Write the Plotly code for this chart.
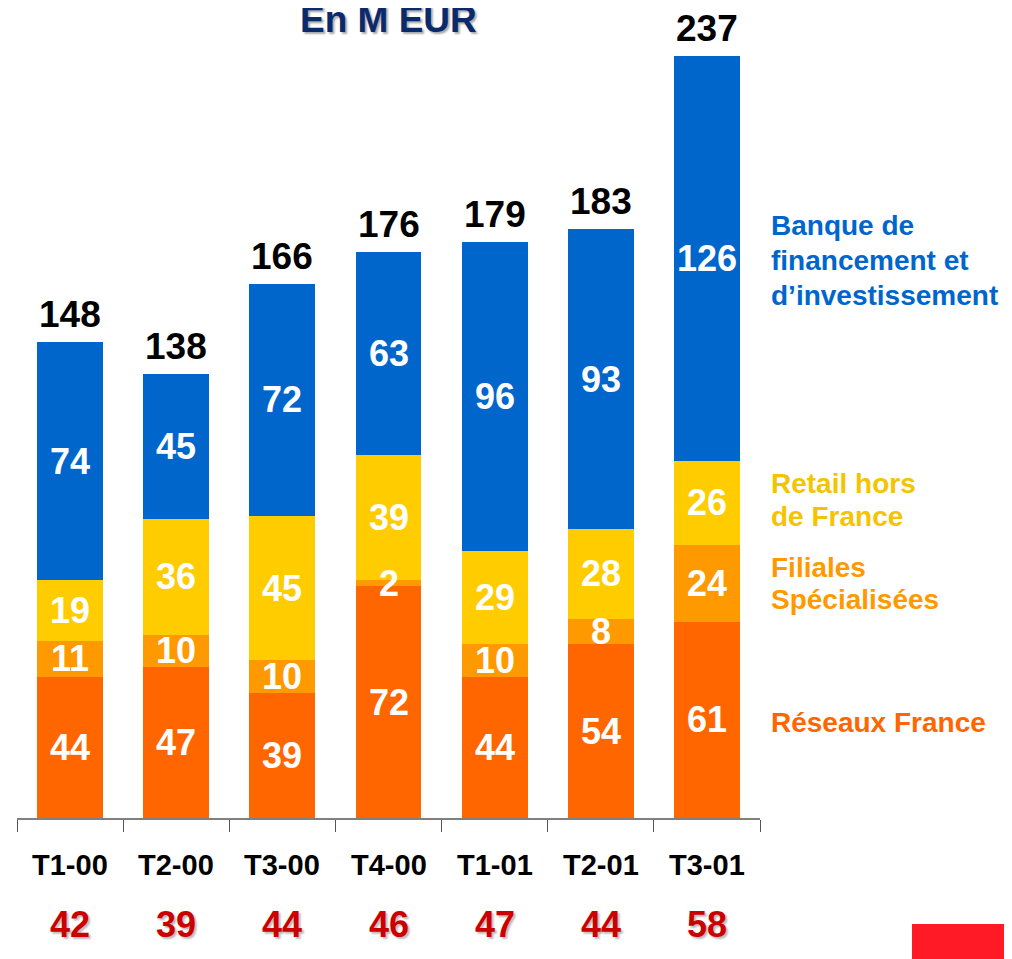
import plotly.graph_objects as go

categories = ["T1-00", "T2-00", "T3-00", "T4-00", "T1-01", "T2-01", "T3-01"]
reseaux_france = [44, 47, 39, 72, 44, 54, 61]
filiales_specialisees = [11, 10, 10, 2, 10, 8, 24]
retail_hors_france = [19, 36, 45, 39, 29, 28, 26]
banque_financement = [74, 45, 72, 63, 96, 93, 126]
totals = [148, 138, 166, 176, 179, 183, 237]
bottom_values = [42, 39, 44, 46, 47, 44, 58]

series = [
    ("Réseaux France", reseaux_france, "#FF6600"),
    ("Filiales Spécialisées", filiales_specialisees, "#FF9900"),
    ("Retail hors de France", retail_hors_france, "#FFCC00"),
    ("Banque de financement et d'investissement", banque_financement, "#0066CC"),
]

FONT = "Arial, Liberation Sans, sans-serif"

# page body has an 8px margin; the figure is shrunk accordingly
OFF = 8
FIG_W, FIG_H = 1012 - OFF, 959 - OFF
PLOT_L, PLOT_R, PLOT_T, PLOT_B = 17, 760, 14, 818  # target page pixels

fig = go.Figure()
base = [0] * len(categories)
annotations = []
for name, vals, color in series:
    fig.add_trace(go.Bar(
        x=categories, y=vals, name=name, marker=dict(color=color, line=dict(width=0)),
        width=0.62, hoverinfo="skip",
    ))
    for i, v in enumerate(vals):
        annotations.append(dict(
            x=categories[i], y=base[i] + v / 2, xref="x", yref="y", text=str(v),
            showarrow=False, font=dict(family=FONT, size=36, color="white", weight="bold"),
            xanchor="center", yanchor="middle",
        ))
        base[i] += v

for i, t in enumerate(totals):
    annotations.append(dict(
        x=categories[i], y=t, xref="x", yref="y", text=str(t), showarrow=False,
        font=dict(family=FONT, size=37, color="black", weight="bold"),
        xanchor="center", yanchor="bottom", yshift=5,
    ))

H = float(PLOT_B - PLOT_T)
W = float(PLOT_R - PLOT_L)

def py(pix):
    return (PLOT_B - pix) / H

def px(pix):
    return (pix - PLOT_L) / W

for i, c in enumerate(categories):
    annotations.append(dict(
        x=c, y=py(865), xref="x", yref="paper", text=c, showarrow=False,
        font=dict(family=FONT, size=29, color="black", weight="bold"),
        xanchor="center", yanchor="middle",
    ))
    annotations.append(dict(
        x=c, y=py(924), xref="x", yref="paper", text=str(bottom_values[i]), showarrow=False,
        font=dict(family=FONT, size=36, color="#CC0000", weight="bold", shadow="2px 2px 2px #BBBBBB"),
        xanchor="center", yanchor="middle",
    ))

legend_lines = [
    ("Banque de", "#0066CC", 225),
    ("financement et", "#0066CC", 260),
    ("d’investissement", "#0066CC", 295),
    ("Retail hors", "#F5C400", 484),
    ("de France", "#F5C400", 516),
    ("Filiales", "#FF9900", 567),
    ("Spécialisées", "#FF9900", 599),
    ("Réseaux France", "#FF6600", 722),
]
for text, color, ypix in legend_lines:
    annotations.append(dict(
        x=px(769), y=py(ypix), xref="paper", yref="paper", text=text, showarrow=False,
        font=dict(family=FONT, size=28, color=color, weight="bold"),
        xanchor="left", yanchor="middle", align="left",
    ))

annotations.append(dict(
    x=px(388), y=py(19), xref="paper", yref="paper", text="En M EUR", showarrow=False,
    font=dict(family=FONT, size=37, color="#0A2A6E", weight="bold", shadow="2px 2px 2px #AAAAAA"),
    xanchor="center", yanchor="middle",
))

fig.update_layout(
    barmode="stack",
    width=FIG_W, height=FIG_H,
    margin=dict(l=PLOT_L - OFF, r=FIG_W - (PLOT_R - OFF), t=PLOT_T - OFF, b=FIG_H - (PLOT_B - OFF)),
    paper_bgcolor="white", plot_bgcolor="white",
    showlegend=False,
    annotations=annotations,
    shapes=[dict(type="rect", xref="paper", yref="paper",
                 x0=px(912), x1=px(1012), y0=py(959), y1=py(924),
                 fillcolor="#FF1A25", line=dict(width=0))],
)
fig.update_xaxes(
    showticklabels=False, ticks="outside", tickson="boundaries", ticklen=12,
    tickcolor="#555555", showline=True, linecolor="#808080", linewidth=2,
    showgrid=False, zeroline=False,
)
fig.update_yaxes(range=[0, 250], visible=False, showgrid=False, zeroline=False)

fig.write_html("out.html")
